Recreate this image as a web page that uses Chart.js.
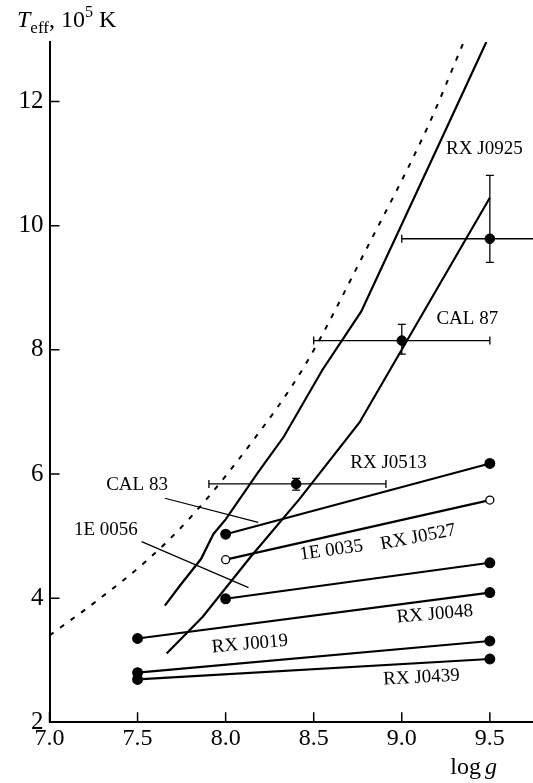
<!DOCTYPE html>
<html>
<head>
<meta charset="utf-8">
<script src="https://cdn.jsdelivr.net/npm/chart.js@4.4.0/dist/chart.umd.min.js"></script>
<style>
html, body { margin: 0; padding: 0; background: #fff; }
canvas { display: block; }
</style>
</head>
<body>
<canvas id="teffChart" width="533" height="783"></canvas>
<script>
// dashed limit curve
var limitLogG = [7.0, 7.27, 7.55, 7.8, 8.14, 8.45, 8.8, 9.15, 9.35];
var limitTeff = [3.4, 3.96, 4.6, 5.3, 6.48, 7.75, 9.63, 11.61, 12.95];

// the two solid model tracks
var upperLogG = [7.655, 7.74, 7.86, 7.93, 8.0, 8.19, 8.33, 8.55, 8.77, 9.27, 9.48];
var upperTeff = [3.88, 4.2, 4.63, 5.03, 5.27, 6.05, 6.6, 7.68, 8.62, 11.67, 12.96];
var lowerLogG = [7.665, 7.87, 8.14, 8.42, 8.76, 9.5];
var lowerTeff = [3.11, 3.70, 4.66, 5.6, 6.83, 10.45];

// sources fitted over a log g range (start / end), open = hollow markers
var fitStartG = [8.0, 8.0, 8.0, 7.5, 7.5, 7.5];
var fitStartT = [5.03, 4.62, 3.99, 3.35, 2.80, 2.69];
var fitEndG   = [9.5, 9.5, 9.5, 9.5, 9.5, 9.5];
var fitEndT   = [6.17, 5.58, 4.57, 4.09, 3.31, 3.02];
var fitOpen   = [false, true, false, false, false, false];

// sources with error bars
var errG   = [8.40, 9.0, 9.5];
var errT   = [5.84, 8.15, 9.79];
var errGLo = [7.905, 8.5, 9.0];
var errGHi = [8.91, 9.5, 10.0];
var errTLo = [5.74, 7.93, 9.41];
var errTHi = [5.93, 8.41, 10.81];

// thin leader lines from names to tracks
var leaderG = [[7.655, 8.185], [7.523, 8.13]];
var leaderT = [[5.61, 5.22], [4.91, 4.17]];

// object names
var labelText  = ['RX J0925', 'CAL 87', 'RX J0513', 'CAL 83', '1E 0056', '1E 0035', 'RX J0527', 'RX J0048', 'RX J0019', 'RX J0439'];
var labelG     = [9.469, 9.372, 8.925, 7.497, 7.32, 8.60, 9.093, 9.188, 8.138, 9.112];
var labelT     = [11.23, 8.49, 6.18, 5.825, 5.10, 4.77, 4.98, 3.74, 3.26, 2.72];
var labelAngle = [0, 0, 0, 0, 0, -8, -11, -5, -5, -3];

var xTicks = [7.0, 7.5, 8.0, 8.5, 9.0, 9.5];
var yTicks = [2, 4, 6, 8, 10, 12];

var SERIF = '"Liberation Serif", "Times New Roman", serif';

function xy(gs, ts) {
    return gs.map(function(g, i) { return {x: g, y: ts[i]}; });
}

var datasets = [];

datasets.push({
    data: xy(limitLogG, limitTeff),
    showLine: true, borderColor: '#000', borderWidth: 2, borderDash: [5, 8],
    pointRadius: 0, cubicInterpolationMode: 'monotone'
});
datasets.push({
    data: xy(upperLogG, upperTeff),
    showLine: true, borderColor: '#000', borderWidth: 2.2, pointRadius: 0
});
datasets.push({
    data: xy(lowerLogG, lowerTeff),
    showLine: true, borderColor: '#000', borderWidth: 2.2, pointRadius: 0
});

for (var i = 0; i < fitStartG.length; i++) {
    datasets.push({
        data: [{x: fitStartG[i], y: fitStartT[i]}, {x: fitEndG[i], y: fitEndT[i]}],
        showLine: true, borderColor: '#000', borderWidth: 2.2,
        pointRadius: fitOpen[i] ? 4 : 4.8,
        pointBackgroundColor: fitOpen[i] ? '#fff' : '#000',
        pointBorderColor: '#000', pointBorderWidth: 1.3
    });
}

for (var j = 0; j < leaderG.length; j++) {
    datasets.push({
        data: xy(leaderG[j], leaderT[j]),
        showLine: true, borderColor: '#000', borderWidth: 1.2, pointRadius: 0
    });
}

for (var k = 0; k < errG.length; k++) {
    // horizontal bar with vertical caps
    datasets.push({
        data: [{x: errGLo[k], y: errT[k]}, {x: errGHi[k], y: errT[k]}],
        showLine: true, borderColor: '#000', borderWidth: 1.3,
        pointStyle: 'line', rotation: 90, pointRadius: 4,
        pointBorderColor: '#000', pointBorderWidth: 1.3
    });
    // vertical bar with horizontal caps
    datasets.push({
        data: [{x: errG[k], y: errTLo[k]}, {x: errG[k], y: errTHi[k]}],
        showLine: true, borderColor: '#000', borderWidth: 1.3,
        pointStyle: 'line', rotation: 0, pointRadius: 4,
        pointBorderColor: '#000', pointBorderWidth: 1.3
    });
    datasets.push({
        data: [{x: errG[k], y: errT[k]}],
        pointRadius: 4.8, pointBackgroundColor: '#000', pointBorderColor: '#000'
    });
}

var annotate = {
    id: 'annotate',
    afterDraw: function(chart) {
        var ctx = chart.ctx, xs = chart.scales.x, ys = chart.scales.y, area = chart.chartArea;
        ctx.save();

        // tick marks point into the plot
        ctx.strokeStyle = '#000';
        ctx.lineWidth = 1.5;
        ctx.beginPath();
        xs.ticks.forEach(function(t) {
            var px = xs.getPixelForValue(t.value);
            ctx.moveTo(px, area.bottom);
            ctx.lineTo(px, area.bottom - 10);
        });
        ys.ticks.forEach(function(t) {
            var py = ys.getPixelForValue(t.value);
            ctx.moveTo(area.left, py);
            ctx.lineTo(area.left + 10, py);
        });
        ctx.stroke();

        ctx.fillStyle = '#000';
        ctx.font = '19px ' + SERIF;
        ctx.textAlign = 'center';
        ctx.textBaseline = 'middle';
        labelText.forEach(function(txt, n) {
            ctx.save();
            ctx.translate(xs.getPixelForValue(labelG[n]), ys.getPixelForValue(labelT[n]));
            ctx.rotate(labelAngle[n] * Math.PI / 180);
            ctx.fillText(txt, 0, 0);
            ctx.restore();
        });

        // y title: T_eff, 10^5 K
        ctx.textAlign = 'left';
        ctx.textBaseline = 'alphabetic';
        var x = 17, base = 27;
        ctx.font = 'italic 24px ' + SERIF;
        ctx.fillText('T', x, base);
        x += ctx.measureText('T').width;
        ctx.font = '17px ' + SERIF;
        ctx.fillText('eff', x, base + 6);
        x += ctx.measureText('eff').width;
        ctx.font = '24px ' + SERIF;
        ctx.fillText(', 10', x, base);
        x += ctx.measureText(', 10').width;
        ctx.font = '16px ' + SERIF;
        ctx.fillText('5', x, base - 10);
        x += ctx.measureText('5').width;
        ctx.font = '24px ' + SERIF;
        ctx.fillText(' K', x, base);

        // x title: log g
        ctx.textAlign = 'right';
        ctx.font = 'italic 24px ' + SERIF;
        ctx.fillText('g', 497, 774);
        var gw = ctx.measureText('g').width;
        ctx.font = '24px ' + SERIF;
        ctx.fillText('log', 497 - gw - 4, 774);

        ctx.restore();
    }
};

new Chart(document.getElementById('teffChart'), {
    type: 'scatter',
    data: { datasets: datasets },
    plugins: [annotate],
    options: {
        responsive: false,
        animation: false,
        devicePixelRatio: 1,
        layout: { autoPadding: false, padding: { top: 42, right: 0, left: 0, bottom: 0 } },
        plugins: { legend: { display: false }, tooltip: { enabled: false } },
        scales: {
            x: {
                type: 'linear', min: 7.0, max: 9.745,
                afterBuildTicks: function(s) { s.ticks = xTicks.map(function(v) { return {value: v}; }); },
                afterFit: function(s) { s.height = 60.7; s.paddingRight = 0; s.paddingLeft = 0; },
                grid: { display: false, drawTicks: false },
                border: { display: true, color: '#000', width: 2 },
                ticks: {
                    color: '#000', padding: 2, maxRotation: 0,
                    font: { family: SERIF, size: 24 },
                    callback: function(v) { return Number(v).toFixed(1); }
                }
            },
            y: {
                type: 'linear', min: 2, max: 12.96,
                afterBuildTicks: function(s) { s.ticks = yTicks.map(function(v) { return {value: v}; }); },
                afterFit: function(s) { s.width = 49.5; s.paddingTop = 0; s.paddingBottom = 0; },
                grid: { display: false, drawTicks: false },
                border: { display: true, color: '#000', width: 2 },
                ticks: {
                    color: '#000', padding: 6,
                    font: { family: SERIF, size: 25 },
                    callback: function(v) { return String(v); }
                }
            }
        }
    }
});
</script>
</body>
</html>
